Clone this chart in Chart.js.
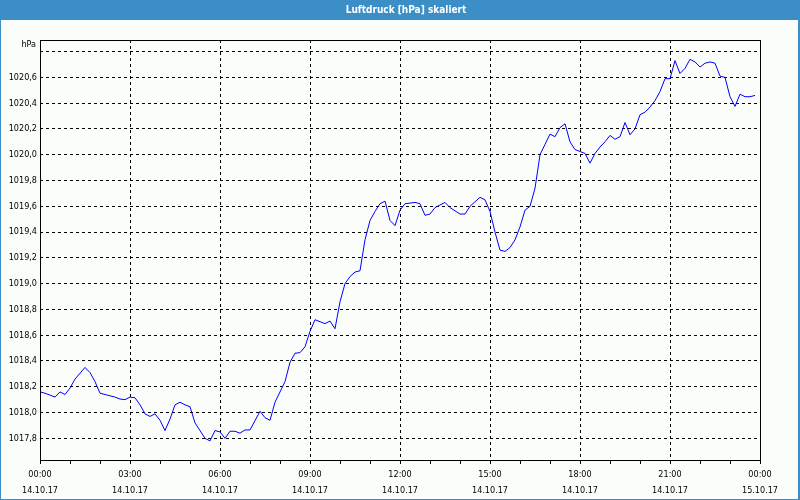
<!DOCTYPE html>
<html>
<head>
<meta charset="utf-8">
<script src="https://cdn.jsdelivr.net/npm/chart.js@4/dist/chart.umd.min.js"></script>
<style>
  html, body { margin: 0; padding: 0; background: #fff; }
</style>
</head>
<body>
<canvas id="myLineChart" width="800" height="500"></canvas>
<script>
// minutes since 14.10.17 00:00
const minutes = [
  0, 10, 30, 40, 50, 60, 70, 90, 100, 110, 120, 130, 150, 160, 170, 180, 190,
  200, 210, 220, 230, 240, 250, 260, 270, 280, 290, 300, 310, 330, 340, 350,
  360, 370, 380, 390, 400, 410, 420, 440, 450, 460, 470, 490, 500, 510, 520,
  530, 540, 550, 570, 580, 590, 600, 610, 620, 630, 640, 650, 660, 670, 680,
  690, 700, 710, 720, 730, 750, 760, 770, 780, 790, 810, 820, 840, 850, 860,
  880, 890, 900, 910, 920, 930, 940, 950, 960, 970, 980, 990, 1000, 1010, 1020,
  1030, 1040, 1050, 1060, 1070, 1090, 1100, 1110, 1120, 1130, 1140, 1150, 1160,
  1170, 1180, 1190, 1200, 1210, 1220, 1230, 1240, 1250, 1260, 1270, 1280, 1290,
  1300, 1310, 1320, 1330, 1340, 1350, 1360, 1370, 1380, 1390, 1400, 1410, 1420, 1430
];
// hPa
const pressure = [
  1018.16, 1018.15, 1018.12, 1018.16, 1018.14, 1018.19, 1018.26, 1018.35, 1018.31, 1018.24, 1018.15, 1018.14, 1018.12, 1018.105, 1018.10, 1018.12, 1018.115,
  1018.06, 1017.99, 1017.97, 1017.99, 1017.94, 1017.86, 1017.95, 1018.06, 1018.08, 1018.06, 1018.045, 1017.92, 1017.80, 1017.78, 1017.86,
  1017.85, 1017.80, 1017.855, 1017.855, 1017.84, 1017.865, 1017.865, 1018.01, 1017.96, 1017.94, 1018.08, 1018.24, 1018.39, 1018.46, 1018.465,
  1018.51, 1018.63, 1018.72, 1018.69, 1018.71, 1018.65, 1018.86, 1019.00, 1019.055, 1019.09, 1019.10, 1019.34, 1019.49, 1019.56, 1019.62,
  1019.64, 1019.49, 1019.45, 1019.57, 1019.62, 1019.63, 1019.62, 1019.53, 1019.54, 1019.59, 1019.63, 1019.59, 1019.54, 1019.54, 1019.60,
  1019.67, 1019.65, 1019.56, 1019.40, 1019.26, 1019.25, 1019.28, 1019.34, 1019.44, 1019.57, 1019.60, 1019.74, 1020.00, 1020.08, 1020.16,
  1020.14, 1020.21, 1020.24, 1020.10, 1020.04, 1020.01, 1019.935, 1020.01, 1020.06, 1020.10, 1020.15, 1020.12, 1020.14,
  1020.25, 1020.155, 1020.20, 1020.31, 1020.33, 1020.37, 1020.42, 1020.49, 1020.59, 1020.59, 1020.73, 1020.63, 1020.67,
  1020.74, 1020.72, 1020.68, 1020.71, 1020.72, 1020.71, 1020.61, 1020.60, 1020.45, 1020.375, 1020.47, 1020.45, 1020.45, 1020.46
];
const title = 'Luftdruck [hPa] skaliert';
const unit = 'hPa';
const timeLabels = ['00:00', '03:00', '06:00', '09:00', '12:00', '15:00', '18:00', '21:00', '00:00'];
const dateLabels = ['14.10.17', '14.10.17', '14.10.17', '14.10.17', '14.10.17', '14.10.17', '14.10.17', '14.10.17', '15.10.17'];
const yTicks = [1017.8, 1018.0, 1018.2, 1018.4, 1018.6, 1018.8, 1019.0, 1019.2, 1019.4, 1019.6, 1019.8, 1020.0, 1020.2, 1020.4, 1020.6, 1020.8];

const family = '"DejaVu Sans Condensed", "Liberation Sans", sans-serif';
const font = { family: family, size: 9 };

// background, title bar, frame and unit label
const frame = {
  id: 'frame',
  beforeDraw(chart) {
    const ctx = chart.ctx;
    ctx.save();
    ctx.fillStyle = '#fbfdfb';
    ctx.fillRect(0, 0, 800, 500);
    ctx.fillStyle = '#3c8fc6';
    ctx.fillRect(0, 0, 800, 20);
    ctx.fillRect(0, 0, 1, 500);
    ctx.fillRect(798, 0, 2, 500);
    ctx.fillRect(0, 499, 800, 1);
    ctx.restore();
  },
  afterDraw(chart) {
    const ctx = chart.ctx;
    const a = chart.chartArea;
    ctx.save();
    ctx.strokeStyle = '#000';
    ctx.lineWidth = 1;
    ctx.strokeRect(Math.round(a.left) + 0.5, Math.round(a.top) + 0.5,
      Math.round(a.right - a.left), Math.round(a.bottom - a.top));
    ctx.fillStyle = '#ffffff';
    ctx.font = 'bold 10px ' + family;
    ctx.textAlign = 'center';
    ctx.textBaseline = 'middle';
    ctx.fillText(title, 406, 10);
    ctx.fillStyle = '#000';
    ctx.font = '9px ' + family;
    ctx.textAlign = 'right';
    ctx.fillText(unit, a.left - 4, a.top + 5);
    ctx.restore();
  }
};

const config = {
  type: 'line',
  data: {
    datasets: [{
      data: minutes.map((m, i) => ({ x: m, y: pressure[i] })),
      borderColor: '#0000ff',
      borderWidth: 1,
      pointRadius: 0,
      tension: 0,
      fill: false
    }]
  },
  options: {
    responsive: false,
    devicePixelRatio: 1,
    animation: false,
    layout: { padding: { left: 1, right: 40, top: 40, bottom: 1 } },
    plugins: {
      legend: { display: false },
      tooltip: { enabled: false },
      title: { display: false }
    },
    scales: {
      x: {
        type: 'linear',
        min: 0,
        max: 1440,
        afterBuildTicks: s => {
          const t = [];
          for (let m = 0; m <= 1440; m += 60) t.push({ value: m });
          s.ticks = t;
        },
        afterFit: s => { s.height = 39; },
        border: { display: false, dash: [3, 3] },
        grid: {
          color: c => (c.tick && c.tick.value % 180 === 0 && c.tick.value > 0 && c.tick.value < 1440) ? '#000' : 'rgba(0,0,0,0)',
          tickColor: '#000',
          tickLength: 4,
          lineWidth: 1
        },
        ticks: {
          autoSkip: false,
          maxRotation: 0,
          padding: 3,
          color: '#000',
          font: { family: family, size: 9, lineHeight: 1.75 },
          callback: v => v % 180 === 0 ? [timeLabels[v / 180], dateLabels[v / 180]] : ''
        }
      },
      y: {
        min: 1017.632,
        max: 1020.89,
        afterBuildTicks: s => { s.ticks = yTicks.map(v => ({ value: v })); },
        afterFit: s => { s.width = 39; },
        border: { display: false, dash: [3, 3] },
        grid: { color: '#000', drawTicks: false, lineWidth: 1 },
        ticks: {
          padding: 3,
          color: '#000',
          font,
          callback: v => v === 1020.8 ? '' : v.toFixed(1).replace('.', ',')
        }
      }
    }
  },
  plugins: [frame]
};

const myChart = new Chart(document.getElementById('myLineChart'), config);
</script>
</body>
</html>
